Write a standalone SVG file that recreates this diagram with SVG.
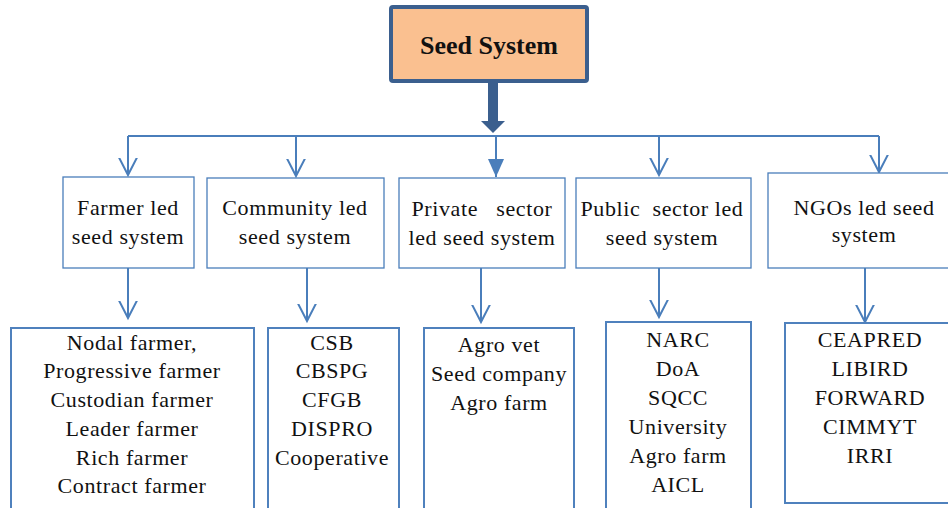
<svg xmlns="http://www.w3.org/2000/svg" width="948" height="508" viewBox="0 0 948 508">
<defs>
<marker id="open" viewBox="0 0 20 20" markerWidth="20" markerHeight="20" refX="17.5" refY="10" orient="auto" markerUnits="userSpaceOnUse">
<path d="M0,1 L17.5,10 L0,19" fill="none" stroke="#4a7ebb" stroke-width="2"/>
</marker>
<marker id="solid" viewBox="0 0 20 20" markerWidth="20" markerHeight="20" refX="18" refY="10" orient="auto" markerUnits="userSpaceOnUse">
<path d="M0,2 L18,10 L0,18 z" fill="#4a7ebb"/>
</marker>
<style>
.t{font-family:"Liberation Serif","Times New Roman",serif;font-size:22px;letter-spacing:0.6px;fill:#111;text-anchor:middle;white-space:pre}
.title{font-family:"Liberation Serif","Times New Roman",serif;font-size:26px;font-weight:bold;fill:#111;text-anchor:middle}
.b2{fill:#fff;stroke:#4a7ebb;stroke-width:1.3}
.b3{fill:#fff;stroke:#4f81bd;stroke-width:2}
.c{fill:none;stroke:#4a7ebb;stroke-width:2}
</style>
</defs>
<rect width="948" height="508" fill="#fff"/>

<g id="connectors">
<rect x="488" y="81" width="10" height="41" fill="#3b5f8e"/>
<polygon points="481,121 505,121 493,133" fill="#3b5f8e"/>
<path class="c" d="M128,136 H879"/>
<path class="c" d="M128,136 V175" marker-end="url(#open)"/>
<path class="c" d="M296,136 V176" marker-end="url(#open)"/>
<path class="c" d="M496,136 V177" marker-end="url(#solid)"/>
<path class="c" d="M659,136 V175" marker-end="url(#open)"/>
<path class="c" d="M879,136 V172" marker-end="url(#open)"/>
<path class="c" d="M128,268 V318" marker-end="url(#open)"/>
<path class="c" d="M307,268 V321" marker-end="url(#open)"/>
<path class="c" d="M481,268 V322" marker-end="url(#open)"/>
<path class="c" d="M659,268 V317" marker-end="url(#open)"/>
<path class="c" d="M865,268 V322" marker-end="url(#open)"/>
</g>

<g id="seed-system">
<rect x="391" y="7" width="196" height="74" rx="2" fill="#fac090" stroke="#3b5f8e" stroke-width="4"/>
<text class="title" x="489" y="54">Seed System</text>
</g>

<g id="farmer-led">
<rect class="b2" x="63" y="177" width="131" height="91"/>
<text class="t" x="128" y="215">Farmer led</text>
<text class="t" x="128" y="244">seed system</text>
</g>
<g id="community-led">
<rect class="b2" x="207" y="178" width="177" height="90"/>
<text class="t" x="295" y="215">Community led</text>
<text class="t" x="295" y="244">seed system</text>
</g>
<g id="private-led">
<rect class="b2" x="399" y="178" width="166" height="90"/>
<text class="t" x="482" y="216">Private   sector</text>
<text class="t" x="482" y="245">led seed system</text>
</g>
<g id="public-led">
<rect class="b2" x="576" y="178" width="175" height="90"/>
<text class="t" x="662" y="216">Public  sector led</text>
<text class="t" x="662" y="245">seed system</text>
</g>
<g id="ngo-led">
<rect class="b2" x="768" y="173" width="195" height="95"/>
<text class="t" x="864" y="215">NGOs led seed</text>
<text class="t" x="864" y="242">system</text>
</g>

<g id="farmer-list">
<rect class="b3" x="11" y="328" width="243" height="200"/>
<text class="t" x="132" y="350">Nodal farmer,</text>
<text class="t" x="132" y="378">Progressive farmer</text>
<text class="t" x="132" y="407">Custodian farmer</text>
<text class="t" x="132" y="436">Leader farmer</text>
<text class="t" x="132" y="465">Rich farmer</text>
<text class="t" x="132" y="493">Contract farmer</text>
</g>
<g id="community-list">
<rect class="b3" x="268" y="328" width="131" height="200"/>
<text class="t" x="332" y="350">CSB</text>
<text class="t" x="332" y="378">CBSPG</text>
<text class="t" x="332" y="407">CFGB</text>
<text class="t" x="332" y="436">DISPRO</text>
<text class="t" x="332" y="465">Cooperative</text>
</g>
<g id="private-list">
<rect class="b3" x="424" y="328" width="150" height="200"/>
<text class="t" x="499" y="352">Agro vet</text>
<text class="t" x="499" y="381">Seed company</text>
<text class="t" x="499" y="410">Agro farm</text>
</g>
<g id="public-list">
<rect class="b3" x="606" y="322" width="145" height="200"/>
<text class="t" x="678" y="347">NARC</text>
<text class="t" x="678" y="376">DoA</text>
<text class="t" x="678" y="405">SQCC</text>
<text class="t" x="678" y="434">University</text>
<text class="t" x="678" y="463">Agro farm</text>
<text class="t" x="678" y="492">AICL</text>
</g>
<g id="ngo-list">
<rect class="b3" x="785" y="323" width="180" height="180"/>
<text class="t" x="870" y="347">CEAPRED</text>
<text class="t" x="870" y="376">LIBIRD</text>
<text class="t" x="870" y="405">FORWARD</text>
<text class="t" x="870" y="434">CIMMYT</text>
<text class="t" x="870" y="463">IRRI</text>
</g>
</svg>
